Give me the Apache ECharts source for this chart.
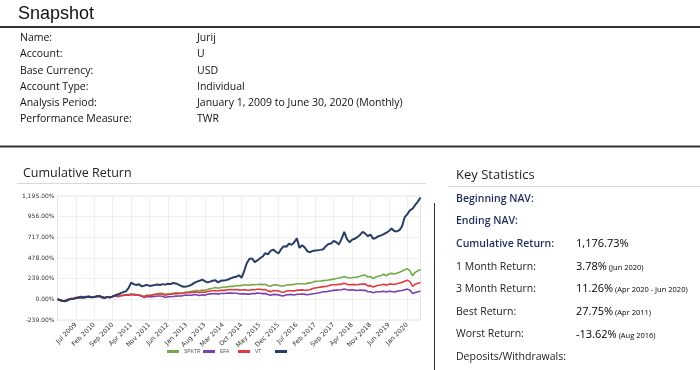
<!DOCTYPE html>
<html><head><meta charset="utf-8">
<script src="https://cdn.jsdelivr.net/npm/echarts@6/dist/echarts.min.js"></script>
<style>html,body{margin:0;padding:0;background:#fff;}#c{width:700px;height:370px;}</style>
</head><body><div id="c"></div>
<script>
// ---- data ----
const monthNames = ['Jan','Feb','Mar','Apr','May','Jun','Jul','Aug','Sep','Oct','Nov','Dec'];
const categories = ['Dec 2008'];
for (let y = 2009; y <= 2020; y++) for (let m = 0; m < 12; m++) { if (y === 2020 && m > 5) break; categories.push(monthNames[m] + ' ' + y); }

const accountSeries = [0,
 -8,-18,-22,-8,3,6,14,18,24,20,27,30,
 24,28,36,40,26,18,28,22,34,48,58,72,
 84,92,130,194,176,166,174,150,158,168,155,160,
 165,171,166,176,170,180,176,190,184,170,155,146,
 148,156,170,190,205,214,228,210,196,205,215,220,
 196,214,218,222,230,245,256,262,278,250,330,420,
 470,472,430,450,475,495,535,520,560,575,550,530,
 580,615,608,645,630,660,705,595,625,600,555,545,
 560,565,568,572,578,615,640,645,675,660,635,700,
 780,700,660,690,700,720,745,780,760,730,750,700,
 710,730,740,755,770,790,820,790,785,800,845,950,
 985,1030,1048,1093,1130,1177];
const spktr = [0,
 -8,-18,-11,-3,3,3,11,15,19,17,24,26,
 22,26,34,36,25,18,26,21,32,37,37,46,
 49,54,54,59,57,54,51,42,32,47,46,52,
 57,63,69,68,58,64,67,71,75,72,73,75,
 84,87,94,98,103,100,108,105,113,123,129,136,
 128,136,140,142,147,152,150,160,157,161,168,165,
 162,172,169,171,175,170,174,158,152,166,167,163,
 155,155,166,167,170,171,180,180,181,178,187,190,
 198,208,209,212,216,218,223,228,234,240,247,252,
 265,252,246,249,255,257,267,278,280,258,264,240,
 258,268,275,290,272,295,300,292,302,312,328,342,
 355,330,272,312,330,342];
const efa = [0,
 -14,-23,-16,-3,10,9,20,26,31,28,32,34,
 28,27,35,31,17,15,27,22,34,38,31,42,
 45,50,47,55,52,50,47,35,22,34,30,29,
 33,38,38,36,22,30,30,33,37,38,40,44,
 50,47,49,55,50,45,52,48,58,63,65,67,
 60,68,67,70,72,74,70,70,65,63,65,60,
 60,68,66,72,70,66,68,55,47,57,55,52,
 43,40,52,56,55,50,59,59,61,57,53,58,
 64,68,74,80,87,88,94,100,104,106,108,110,
 120,110,107,110,106,103,108,104,105,88,87,77,
 84,88,89,94,85,93,90,85,92,99,102,110,
 118,105,68,80,87,93];
const vt = [0,
 -12,-21,-13,-2,8,7,17,22,27,24,29,31,
 25,27,35,34,21,16,27,22,34,38,35,45,
 48,53,51,58,55,52,49,39,29,44,42,46,
 55,62,64,62,48,56,58,62,66,66,68,72,
 77,77,80,85,83,78,85,82,90,97,100,103,
 96,104,104,107,110,113,110,113,107,108,111,107,
 105,113,111,116,116,111,113,98,89,101,100,96,
 84,82,96,99,100,98,106,107,109,105,107,111,
 125,132,136,141,147,149,156,165,168,170,173,176,
 185,173,168,171,170,168,175,176,177,156,159,143,
 155,163,166,175,162,176,178,172,180,188,196,210,
 222,205,150,175,186,195];

const legendNames = ['SPKTR','EFA','VT',' '];
const yMin = -239, yMax = 1195, yStep = 239;

const snapshotLabels = ['Name:','Account:','Base Currency:','Account Type:','Analysis Period:','Performance Measure:'];
const snapshotValues = ['Jurij','U','USD','Individual','January 1, 2009 to June 30, 2020 (Monthly)','TWR'];

const statLabels = ['Beginning NAV:','Ending NAV:','Cumulative Return:','1 Month Return:','3 Month Return:','Best Return:','Worst Return:','Deposits/Withdrawals:'];
const statValues = ['','','1,176.73%','3.78%','11.26%','27.75%','-13.62%',''];
const statNotes = ['','','','(Jun 2020)','(Apr 2020 - Jun 2020)','(Apr 2011)','(Aug 2016)',''];

// ---- rendering ----
const FONT = '"Open Sans", "Noto Sans", sans-serif';
const NAVY = '#1f2d5c';
function fmt(v){
  const neg = v < 0; const a = Math.abs(v);
  const s = a.toFixed(2); let [ip, dp] = s.split('.');
  ip = ip.replace(/\B(?=(\d{3})+(?!\d))/g, ',');
  return (neg ? '-' : '') + ip + '.' + dp + '%';
}
function txt(x, y, text, size, fill, weight, family){
  return {type:'text', silent:true, style:{x:x, y:y, text:text, fill:fill||'#111',
    font:(weight||'normal') + ' ' + size + 'px ' + (family||FONT), textVerticalAlign:'middle', verticalAlign:'middle'}};
}
function line(x1,y1,x2,y2,color,w){
  return {type:'line', silent:true, shape:{x1:x1,y1:y1,x2:x2,y2:y2}, style:{stroke:color, lineWidth:w}};
}
const g = [];
g.push(txt(18, 14.5, 'Snapshot', 18, '#111', 'normal', '"Liberation Sans", Arial, sans-serif'));
g.push(line(0, 27, 700, 27, '#333', 2));
g.push(line(0, 146.5, 700, 146.5, '#333', 2));
const rowY = [38.5, 54.5, 71, 87.3, 103.3, 119.3];
snapshotLabels.forEach((l,i)=>{ g.push(txt(20, rowY[i], l, 10.5)); g.push(txt(197, rowY[i], snapshotValues[i], 10.5)); });

g.push(txt(23, 173, 'Cumulative Return', 12.5, '#222'));
g.push(line(17, 183.5, 426, 183.5, '#d9d9d9', 1));

g.push(txt(456, 175.5, 'Key Statistics', 13, '#222'));
g.push(line(448, 186.5, 700, 186.5, '#d9d9d9', 1));
g.push(line(434.5, 203, 434.5, 370, '#333', 1));
const statY = [199, 221.3, 244, 266.7, 289.3, 311.7, 334.5, 356.7];
statLabels.forEach((l,i)=>{
  const isNavy = i < 3;
  g.push(txt(456, statY[i], l, 10.5, isNavy ? NAVY : '#222', isNavy ? '600' : 'normal'));
  if (statValues[i]) {
    g.push({type:'text', silent:true, style:{x:576, y:statY[i], textVerticalAlign:'middle', verticalAlign:'middle',
      text:'{a|' + statValues[i] + '}' + (statNotes[i] ? '{b| ' + statNotes[i] + '}' : ''),
      rich:{a:{fontSize:11, fontFamily:FONT, fontWeight:'normal', color: i===2 ? NAVY : '#222'},
            b:{fontSize:7.5, fontFamily:FONT, color:'#222', padding:[2,0,0,0]}}}});
  }
});

const labelInterval = function(idx){ return idx > 0 && idx % 7 === 0; };
const legendLeft = [167, 203, 238, 275];
const legendBase = {top:349, itemWidth:12, itemHeight:3, itemGap:0, icon:'rect', padding:0,
    textStyle:{fontSize:5, color:'#555', fontFamily:'"Liberation Sans", Arial, sans-serif'}};
const chart = echarts.init(document.getElementById('c'), null, {renderer:'canvas'});
chart.setOption({
  animation:false,
  backgroundColor:'#fff',
  graphic:g,
  grid:{left:57.5, right:279.5, top:196, bottom:50, show:true, borderColor:'#e4e4e4', borderWidth:1, containLabel:false},
  legend:legendNames.map((n,i)=>Object.assign({}, legendBase, {left:legendLeft[i], data:[n]})),
  xAxis:{type:'category', data:categories, boundaryGap:false,
    axisLine:{show:false}, axisTick:{show:false},
    axisLabel:{interval:labelInterval, rotate:45, fontSize:6.5, color:'#333', margin:4, fontFamily:'"DejaVu Sans", sans-serif'},
    splitLine:{show:true, interval:labelInterval, lineStyle:{color:'#efefef', width:1}}},
  yAxis:{type:'value', min:yMin, max:yMax, interval:yStep,
    axisLine:{show:false}, axisTick:{show:false},
    axisLabel:{formatter:fmt, fontSize:6, color:'#333', margin:3, fontFamily:'"DejaVu Sans", sans-serif'},
    splitLine:{show:true, lineStyle:{color:'#efefef', width:1}}},
  series:[
    {name:'SPKTR', type:'line', data:spktr, showSymbol:false, color:'#74a848', lineStyle:{width:1.6}},
    {name:'EFA', type:'line', data:efa, showSymbol:false, color:'#7b3fae', lineStyle:{width:1.6}},
    {name:'VT', type:'line', data:vt, showSymbol:false, color:'#e0393e', lineStyle:{width:1.6}},
    {name:' ', type:'line', data:accountSeries, showSymbol:false, color:'#283e66', lineStyle:{width:2}}
  ]
});
</script></body></html>
